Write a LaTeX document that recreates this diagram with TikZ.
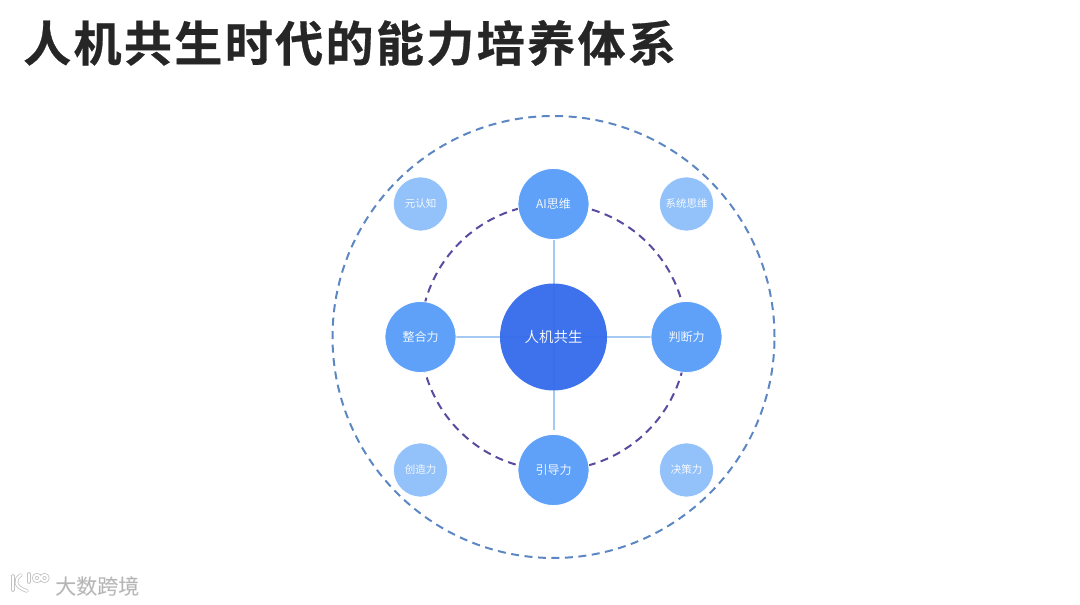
\documentclass[tikz,border=0pt]{standalone}
\usepackage{fontspec}
\usepackage{xcolor}
\setmainfont{Noto Sans CJK SC}
\newfontfamily\titlefont[LetterSpace=5,FakeBold=0.6]{Noto Sans CJK SC Bold}
\newfontfamily\bodyfont{Noto Sans CJK SC DemiLight}
\usetikzlibrary{positioning,backgrounds}
\definecolor{hubblue}{HTML}{366CEB}
\definecolor{midblue}{HTML}{5FA1F9}
\definecolor{lightblue}{HTML}{93C2FB}
\definecolor{spokeblue}{HTML}{A4CAF3}
\definecolor{ringout}{HTML}{5C87C2}
\definecolor{ringin}{HTML}{5A4AA0}
\definecolor{titlegray}{HTML}{262626}
\tikzset{
  hubnode/.style   = {circle, fill=hubblue, fill opacity=0.96, text opacity=1, text=white,
                      minimum size=107pt, inner sep=0pt, font=\bodyfont\fontsize{14.5pt}{16pt}\selectfont},
  abilnode/.style  = {circle, fill=midblue, draw=white, line width=0.8pt, text=white,
                      minimum size=71pt, inner sep=0pt, font=\bodyfont\fontsize{12pt}{14pt}\selectfont},
  softnode/.style  = {circle, fill=lightblue, draw=white, line width=0.6pt, text=white,
                      minimum size=54pt, inner sep=0pt, font=\bodyfont\fontsize{10.5pt}{12pt}\selectfont},
  spokeline/.style = {draw=spokeblue, line width=2pt},
  ringline/.style  = {line width=2pt, dash pattern=on 8pt off 5.5pt},
  markedge/.style  = {draw=black!24, line width=3.6pt, line cap=round},
  markfill/.style  = {draw=white, line width=2pt, line cap=round},
  marknode/.style  = {inner sep=0pt},
}
\begin{document}
\begin{tikzpicture}[x=1pt,y=1pt]
  \useasboundingbox (0,0) rectangle (1080,605);
  \node[anchor=west, text=titlegray, inner sep=0pt, font=\titlefont\fontsize{48pt}{50pt}\selectfont] (title) at (23,562) {人机共生时代的能力培养体系};

  \node[hubnode] (hub) at (553.5,268) {人机共生};

  \node[abilnode] (ai)   at (553.5,401) {AI思维};
  \node[abilnode] (judge) at (686.5,268) {判断力};
  \node[abilnode] (lead) at (553.5,135) {引导力};
  \node[abilnode] (integ) at (420.5,268) {整合力};

  \node[softnode] (meta) at (420.5,401) {元认知};
  \node[softnode] (sys)  at (686.5,401) {系统思维};
  \node[softnode] (make) at (420.5,135) {创造力};
  \node[softnode] (deci) at (686.5,135) {决策力};

  % rings and spokes go behind the circles
  \begin{scope}[on background layer]
    \draw[ringline, draw=ringout] (hub.center) circle[radius=221];
    \draw[ringline, draw=ringin] (hub.center) circle[radius=133];
    \draw[spokeline] (hub.center) -- (ai);
    \draw[spokeline] (hub.center) -- (judge);
    \draw[spokeline, shorten >=4pt] (hub.center) -- (lead);
    \draw[spokeline] (hub.center) -- (integ);
  \end{scope}

  \node[marknode, anchor=west, text=black!30, font=\bodyfont\fontsize{21pt}{23pt}\selectfont] (brand) at (55,19) {\special{pdf:code q 2 Tr 0.25 w 0.8 G}大数跨境\special{pdf:code Q}};

  % logo mark
  \foreach \penstyle in {markedge,markfill}{
    \draw[\penstyle] (13,29) -- (13,15);
    \draw[\penstyle] (21,30) .. controls (14,26) and (14,18) .. (27,14);
    \draw[\penstyle] (29,31) -- (29,23);
    \draw[\penstyle] (37,27) circle[radius=3.2];
    \draw[\penstyle] (44.5,27) circle[radius=3.2];
  }
\end{tikzpicture}
\end{document}
